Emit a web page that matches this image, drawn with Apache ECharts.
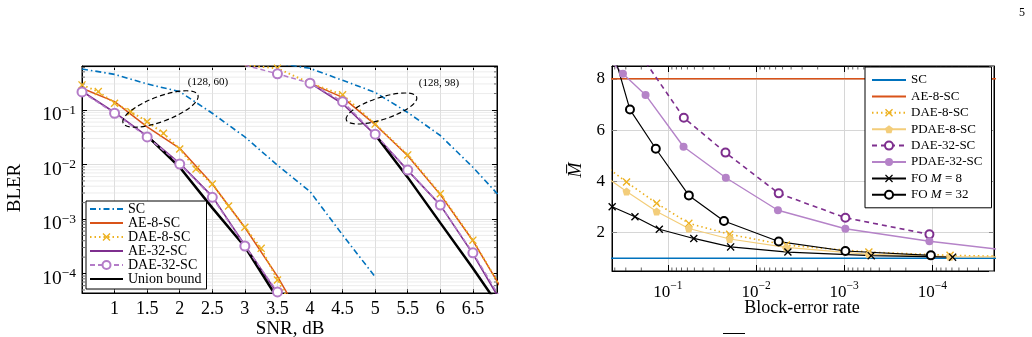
<!DOCTYPE html>
<html><head><meta charset="utf-8">
<script src="https://cdn.jsdelivr.net/npm/echarts@6/dist/echarts.min.js"></script>
<style>html,body{margin:0;padding:0;background:#fff}#c{width:1032px;height:337px}</style>
</head><body><div id="c"></div>
<script>
// ---------- Left panel: BLER vs SNR ----------
const snrSC1 = [0.5,1,1.5,2,2.5,3,3.5,4,4.5,5];
const blerSC1 = [0.565,0.45,0.30,0.217,0.087,0.032,0.0097,0.0032,5.1e-4,8.7e-5];
const snrSC2 = [3.5,4,4.5,5,5.5,6,6.5,7];
const blerSC2 = [0.72,0.58,0.35,0.21,0.09,0.034,0.0089,0.0020];
const snrAE8a = [0.5,1,1.5,2,2.5,3,3.5,4];
const blerAE8a = [0.25,0.142,0.049,0.0198,0.0044,7e-4,8.9e-5,8e-6];
const snrAE8b = [4,4.5,5,5.5,6,6.5,7];
const blerAE8b = [0.31,0.17,0.054,0.0145,0.0028,4e-4,4e-5];
const snrDAE8a = [0.5,0.75,1,1.25,1.5,1.75,2,2.25,2.5,2.75,3,3.25,3.5,3.75];
const blerDAE8a = [0.288,0.217,0.133,0.093,0.061,0.0373,0.0192,0.00826,0.00438,0.00173,7.05e-4,2.9e-4,7.6e-5,2.2e-5];
const snrDAE8b = [3,3.5,4,4.5,5,5.5,6,6.5,7];
const blerDAE8b = [0.66,0.58,0.31,0.19,0.055,0.015,0.0029,4.1e-4,4e-5];
const snrAE32a = [0.5,1,1.5,2,2.5,3,3.5,4];
const blerAE32a = [0.22,0.09,0.033,0.0105,0.0026,3.3e-4,4.3e-5,4e-6];
const snrAE32b = [4,4.5,5,5.5,6,6.5,7];
const blerAE32b = [0.31,0.13,0.035,0.0078,0.0018,2.3e-4,2.2e-5];
const snrDAE32a = [0.5,1,1.5,2,2.5,3,3.5,4];
const blerDAE32a = [0.214,0.087,0.032,0.0102,0.0025,3.2e-4,4.6e-5,4.5e-6];
const snrDAE32b = [3,3.5,4,4.5,5,5.5,6,6.5,7];
const blerDAE32b = [0.66,0.46,0.31,0.142,0.036,0.0079,0.0018,2.4e-4,2.5e-5];
const snrUBa = [1.5,2,2.5,3,3.5];
const blerUBa = [0.0334,0.0089,0.0016,3.1e-4,3.5e-5];
const snrUBb = [5,5.5,6,6.5,7];
const blerUBb = [0.035,0.0058,8.5e-4,1.25e-4,1.7e-5];
const leftLegend = ['SC','AE-8-SC','DAE-8-SC','AE-32-SC','DAE-32-SC','Union bound'];
const leftNoMarker = ['SC','AE-8-SC','AE-32-SC','Union bound'];

// ---------- Right panel: M-bar vs block-error rate ----------
const rateSC = [1, 1e-5];           const mSC = [1, 1];
const rateAE8 = [1, 1e-5];          const mAE8 = [8, 8];
const rateDAE8 = [0.45,0.294,0.134,0.0578,0.0199,0.00454,5.25e-4,6.3e-5,1.5e-5];
const mDAE8    = [4.45,3.97,3.14,2.36,1.93,1.51,1.24,1.11,1.07];
const ratePDAE8 = [0.45,0.294,0.134,0.0578,0.0199,0.00454,5.25e-4,6.3e-5,1.5e-5];
const mPDAE8    = [4.05,3.6,2.82,2.16,1.75,1.42,1.15,1.06,1.05];
const rateDAE32 = [0.179,0.0659,0.0222,0.00553,9.7e-4,1.08e-4];
const mDAE32    = [8.65,6.48,5.12,3.53,2.58,1.93];
const ratePDAE32 = [0.45,0.323,0.179,0.0664,0.022,0.00564,9.7e-4,1.08e-4,1.5e-5];
const mPDAE32    = [8.7,8.2,7.37,5.35,4.14,2.87,2.15,1.66,1.32];
const rateFO8 = [0.428,0.236,0.125,0.0508,0.0194,0.00435,4.94e-4,5.9e-5];
const mFO8    = [3.01,2.62,2.13,1.77,1.44,1.24,1.10,1.04];
const rateFO32 = [0.5,0.269,0.137,0.0578,0.0231,0.00553,9.7e-4,1.04e-4];
const mFO32    = [10,6.8,5.27,3.45,2.45,1.65,1.28,1.11];
const rightNames = ['R:SC','R:AE-8-SC','R:DAE-8-SC','R:PDAE-8-SC','R:DAE-32-SC','R:PDAE-32-SC','R:FO M = 8','R:FO M = 32'];
const rightNoMarker = ['R:SC','R:AE-8-SC'];

// axis ranges / ticks
const xMinL = 0.5, xMaxL = 6.87, yMinL = 4.4e-5, yMaxL = 0.64;
const xMinR = 2e-5, xMaxR = 0.43, yMinR = 0.5, yMaxR = 8.5;
const minorMant = [2,3,4,5,6,7,8,9];
const minorDec = [-5,-4,-3,-2,-1];

const FONT = '"Liberation Serif","DejaVu Serif",serif';
const xPath = 'path://M0,1.2L1.2,0L5,3.8L8.8,0L10,1.2L6.2,5L10,8.8L8.8,10L5,6.2L1.2,10L0,8.8L3.8,5Z';
const pentPath = 'path://M5,0L10,3.8L8.1,10L1.9,10L0,3.8Z';

function minorVals(lo, hi){ const out=[]; minorDec.forEach(d=>minorMant.forEach(m=>{const v=m*Math.pow(10,d); if(v>lo&&v<hi) out.push(v);})); return out; }
function pairs(xs, ys){ return xs.map((x,i)=>[x, ys[i]]); }
function sci(v){ const e=Math.round(Math.log10(v)); return '{b|10}{s|\u2212'+Math.abs(e)+'}'; }
function legendItems(names, noMarker){ return names.map(n=> noMarker.indexOf(n)>=0 ? {name:n, itemStyle:{opacity:0}} : {name:n}); }

function line(name, xs, ys, color, o, xi, yi){
  return Object.assign({
    type:'line', name, data:pairs(xs,ys), xAxisIndex:xi, yAxisIndex:yi,
    symbol:'none', showAllSymbol:true, clip:true, animation:false,
    color, itemStyle:{color}, lineStyle:{color, width:1.5}
  }, o);
}
const L = (n,xs,ys,c,o)=>line(n,xs,ys,c,o,0,0);
const R = (n,xs,ys,c,o)=>line(n,xs,ys,c,o,2,2);

const cSC='#0072BD', cAE8='#D95319', cDAE8='#EDB120', cAE32='#7E2F8E', cDAE32L='#B47CC8', cPDAE8='#F3CD7A', cPDAE32='#B583C8';
const scStyle = {lineStyle:{color:cSC,width:1.6,type:[6,3,1.5,3]}};
const ae8Style = {lineStyle:{color:cAE8,width:1.5}};
const dae8Style = {symbol:xPath, symbolSize:8, lineStyle:{color:cDAE8,width:2,type:[1.5,3]}};
const ae32Style = {lineStyle:{color:cAE32,width:1.6}};
const dae32Style = {symbol:'emptyCircle', symbolSize:9, itemStyle:{color:cDAE32L,borderWidth:1.5}, lineStyle:{color:cDAE32L,width:1.5,type:[5,3]}};
const ubStyle = {lineStyle:{color:'#000',width:2.5}};

const labelRich = { b:{fontSize:19.5,fontFamily:FONT,color:'#000',lineHeight:22,verticalAlign:'bottom'}, s:{fontSize:13.5,fontFamily:FONT,color:'#000',lineHeight:14,verticalAlign:'top'} };
const labelRichR = { b:{fontSize:17,fontFamily:FONT,color:'#000',lineHeight:21,verticalAlign:'bottom'}, s:{fontSize:11.5,fontFamily:FONT,color:'#000',lineHeight:13,verticalAlign:'top'} };

const axisLine = {show:true, lineStyle:{color:'#000',width:1}};
const grid1 = {lineStyle:{color:'#d6d6d6',width:0.8}};

const option = {
  animation:false,
  grid:[
    {left:82, top:66, width:415, height:227, show:true, borderColor:'#000', borderWidth:1, containLabel:false},
    {left:612, top:66, width:382, height:205, show:true, borderColor:'#000', borderWidth:1, containLabel:false}
  ],
  xAxis:[
    {gridIndex:0, type:'value', min:xMinL, max:xMaxL, interval:0.5, position:'bottom',
     axisLine, axisTick:{inside:true,length:4,lineStyle:{color:'#000'}}, splitLine:grid1,
     axisLabel:{fontFamily:FONT,fontSize:18,color:'#000',margin:7,showMinLabel:false,showMaxLabel:false}},
    {gridIndex:0, type:'value', min:xMinL, max:xMaxL, interval:0.5, position:'top',
     axisLine, axisTick:{inside:true,length:4,lineStyle:{color:'#000'}}, splitLine:{show:false}, axisLabel:{show:false}},
    {gridIndex:1, type:'log', logBase:10, min:xMinR, max:xMaxR, inverse:true, position:'bottom',
     axisLine, axisTick:{inside:true,length:6,lineStyle:{color:'#000'}}, splitLine:{lineStyle:{color:'#d6d6d6',width:1}},
     axisLabel:{formatter:sci, rich:labelRichR, margin:9, showMinLabel:false, showMaxLabel:false}},
    {gridIndex:1, type:'log', logBase:10, min:xMinR, max:xMaxR, inverse:true, position:'top',
     axisLine, axisTick:{inside:true,length:6,lineStyle:{color:'#000'}}, splitLine:{show:false}, axisLabel:{show:false}}
  ],
  yAxis:[
    {gridIndex:0, type:'log', logBase:10, min:yMinL, max:yMaxL, position:'left',
     axisLine, axisTick:{inside:true,length:5,lineStyle:{color:'#000'}}, splitLine:grid1,
     axisLabel:{formatter:sci, rich:labelRich, margin:6, showMinLabel:false, showMaxLabel:false, padding:[8,0,0,0]}},
    {gridIndex:0, type:'log', logBase:10, min:yMinL, max:yMaxL, position:'right',
     axisLine, axisTick:{inside:true,length:5,lineStyle:{color:'#000'}}, splitLine:{show:false}, axisLabel:{show:false}},
    {gridIndex:1, type:'value', min:yMinR, max:yMaxR, splitNumber:4, position:'left',
     axisLine, axisTick:{inside:true,length:5,lineStyle:{color:'#888'}}, splitLine:{lineStyle:{color:'#d6d6d6',width:1}},
     axisLabel:{fontFamily:FONT,fontSize:17,color:'#000',margin:7,showMinLabel:false,showMaxLabel:false}},
    {gridIndex:1, type:'value', min:yMinR, max:yMaxR, splitNumber:4, position:'right',
     axisLine, axisTick:{inside:true,length:5,lineStyle:{color:'#888'}}, splitLine:{show:false}, axisLabel:{show:false}}
  ],
  legend:[
    {data:legendItems(leftLegend,leftNoMarker), orient:'vertical', left:86, top:201, itemWidth:33, itemHeight:10, itemGap:0,
     backgroundColor:'#fff', borderColor:'#000', borderWidth:1, borderRadius:0, padding:[1,5,3,3],
     textStyle:{fontFamily:FONT,fontSize:14,lineHeight:14,color:'#000'}},
    {data:legendItems(rightNames,rightNoMarker), orient:'vertical', left:865, top:67, itemWidth:34, itemHeight:10, itemGap:2.4,
     backgroundColor:'#fff', borderColor:'#000', borderWidth:1, borderRadius:0, padding:[6,9,6,6],
     formatter:n=>{ const t=n.replace('R:',''); if(t.indexOf('FO')===0) return 'FO {i|M} = '+t.split(' ').pop(); return t; },
     textStyle:{fontFamily:FONT,fontSize:13,lineHeight:14,color:'#000', rich:{i:{fontFamily:FONT,fontSize:13,fontStyle:'italic',color:'#000'}}}}
  ],
  series:[
    // minor grid + minor ticks, left log y-axis
    {type:'custom', xAxisIndex:0, yAxisIndex:0, silent:true, z:1, clip:false,
     data:minorVals(yMinL,yMaxL).map(v=>[1,v]),
     renderItem:(p,api)=>{ const cs=p.coordSys; const y=api.coord([api.value(0),api.value(1)])[1];
       return {type:'group',children:[
         {type:'line',shape:{x1:cs.x,y1:y,x2:cs.x+cs.width,y2:y},style:{stroke:'#e4e4e4',lineWidth:0.7}},
         {type:'line',shape:{x1:cs.x,y1:y,x2:cs.x+3,y2:y},style:{stroke:'#333',lineWidth:0.7}},
         {type:'line',shape:{x1:cs.x+cs.width-3,y1:y,x2:cs.x+cs.width,y2:y},style:{stroke:'#333',lineWidth:0.7}}]}; }},
    // minor ticks, right log x-axis
    {type:'custom', xAxisIndex:2, yAxisIndex:2, silent:true, z:1, clip:false,
     data:minorVals(xMinR,xMaxR).map(v=>[v,1]),
     renderItem:(p,api)=>{ const cs=p.coordSys; const x=api.coord([api.value(0),api.value(1)])[0];
       return {type:'group',children:[
         {type:'line',shape:{x1:x,y1:cs.y+cs.height,x2:x,y2:cs.y+cs.height-3.5},style:{stroke:'#222',lineWidth:0.7}},
         {type:'line',shape:{x1:x,y1:cs.y,x2:x,y2:cs.y+3.5},style:{stroke:'#222',lineWidth:0.7}}]}; }},

    L('SC', snrSC1, blerSC1, cSC, scStyle),
    L('SC', snrSC2, blerSC2, cSC, scStyle),
    L('AE-8-SC', snrAE8a, blerAE8a, cAE8, ae8Style),
    L('AE-8-SC', snrAE8b, blerAE8b, cAE8, ae8Style),
    L('DAE-8-SC', snrDAE8a, blerDAE8a, cDAE8, dae8Style),
    L('DAE-8-SC', snrDAE8b, blerDAE8b, cDAE8, dae8Style),
    L('AE-32-SC', snrAE32a, blerAE32a, cAE32, ae32Style),
    L('AE-32-SC', snrAE32b, blerAE32b, cAE32, ae32Style),
    L('Union bound', snrUBa, blerUBa, '#000', ubStyle),
    L('Union bound', snrUBb, blerUBb, '#000', ubStyle),
    L('DAE-32-SC', snrDAE32a, blerDAE32a, cDAE32L, dae32Style),
    L('DAE-32-SC', snrDAE32b, blerDAE32b, cDAE32L, dae32Style),

    R('R:SC', rateSC, mSC, cSC, {lineStyle:{color:cSC,width:1.6}}),
    R('R:AE-8-SC', rateAE8, mAE8, cAE8, {lineStyle:{color:cAE8,width:1.6}}),
    R('R:DAE-8-SC', rateDAE8, mDAE8, cDAE8, {symbol:xPath, symbolSize:8, lineStyle:{color:cDAE8,width:1.6,type:[1.5,3]}}),
    R('R:PDAE-8-SC', ratePDAE8, mPDAE8, cPDAE8, {symbol:pentPath, symbolSize:8, lineStyle:{color:cPDAE8,width:1.2}}),
    R('R:DAE-32-SC', rateDAE32, mDAE32, cAE32, {symbol:'emptyCircle', symbolSize:8, itemStyle:{color:cAE32,borderWidth:1.5}, lineStyle:{color:cAE32,width:1.6,type:[5,4]}}),
    R('R:PDAE-32-SC', ratePDAE32, mPDAE32, cPDAE32, {symbol:'circle', symbolSize:8, lineStyle:{color:cPDAE32,width:1.4}}),
    R('R:FO M = 8', rateFO8, mFO8, '#000', {symbol:xPath, symbolSize:8, lineStyle:{color:'#000',width:1.2}}),
    R('R:FO M = 32', rateFO32, mFO32, '#000', {symbol:'emptyCircle', symbolSize:8, itemStyle:{color:'#000',borderWidth:1.3}, lineStyle:{color:'#000',width:1.2}})
  ],
  graphic:[
    {type:'ellipse', x:160.5, y:109, rotation:20.5*Math.PI/180, shape:{cx:0,cy:0,rx:40,ry:12.5}, style:{fill:null,stroke:'#000',lineWidth:1.2,lineDash:[5,3]}, z:50},
    {type:'ellipse', x:381.5, y:108.5, rotation:18*Math.PI/180, shape:{cx:0,cy:0,rx:37,ry:11}, style:{fill:null,stroke:'#000',lineWidth:1.2,lineDash:[5,3]}, z:50},
    {type:'text', x:208, y:82, style:{text:'(128, 60)', font:'11px '+FONT, fill:'#000', textAlign:'center', textVerticalAlign:'middle'}, z:50},
    {type:'text', x:439, y:83, style:{text:'(128, 98)', font:'11px '+FONT, fill:'#000', textAlign:'center', textVerticalAlign:'middle'}, z:50},
    {type:'text', x:290, y:329, style:{text:'SNR, dB', font:'19px '+FONT, fill:'#000', textAlign:'center', textVerticalAlign:'middle'}, z:50},
    {type:'text', x:15, y:188, rotation:Math.PI/2, style:{text:'BLER', font:'19px '+FONT, fill:'#000', textAlign:'center', textVerticalAlign:'middle'}, z:50},
    {type:'text', x:802, y:308, style:{text:'Block-error rate', font:'18px '+FONT, fill:'#000', textAlign:'center', textVerticalAlign:'middle'}, z:50},
    {type:'text', x:576, y:170, rotation:Math.PI/2, style:{text:'M\u0305', font:'italic 18px '+FONT, fill:'#000', textAlign:'center', textVerticalAlign:'middle'}, z:50},
    {type:'text', x:1022, y:13, style:{text:'5', font:'12px '+FONT, fill:'#000', textAlign:'center', textVerticalAlign:'middle'}, z:50},
    {type:'line', shape:{x1:723,y1:333.5,x2:745,y2:333.5}, style:{stroke:'#000',lineWidth:1}, z:50}
  ]
};
const chart = echarts.init(document.getElementById('c'), null, {renderer:'canvas'});
chart.setOption(option);
</script></body></html>
